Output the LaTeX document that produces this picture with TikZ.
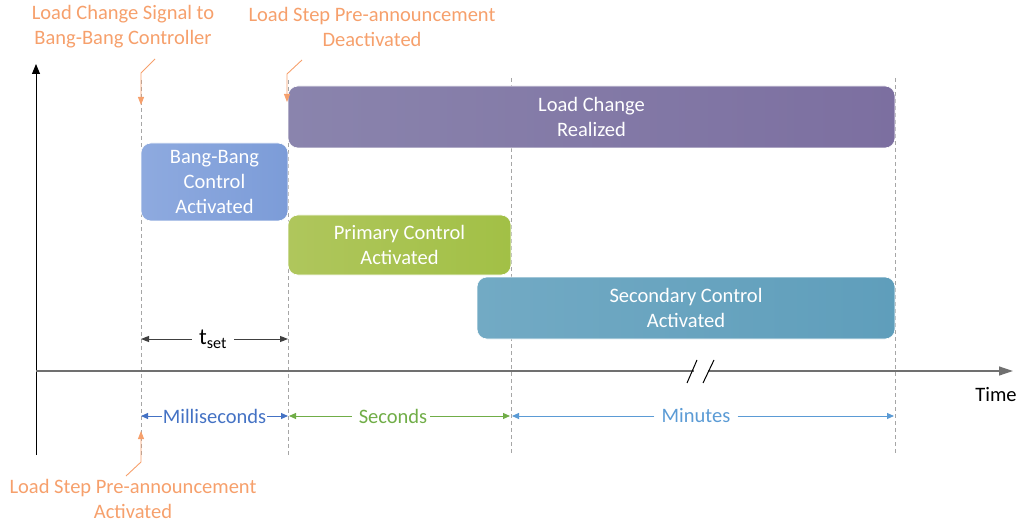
\documentclass[tikz,border=0pt]{standalone}
\usepackage{fontspec}
\setmainfont{Carlito}
\usetikzlibrary{arrows.meta}
\definecolor{ann}{HTML}{F6A06C}
\definecolor{axisgray}{HTML}{707070}
\definecolor{dashgray}{HTML}{A6A6A6}
\definecolor{msblue}{HTML}{4472C4}
\definecolor{secgreen}{HTML}{70AD47}
\definecolor{minblue}{HTML}{5B9BD5}
\definecolor{lcrL}{HTML}{8A84AD}
\definecolor{lcrR}{HTML}{7C6FA0}
\definecolor{bbL}{HTML}{8EAADF}
\definecolor{bbR}{HTML}{7C9CD8}
\definecolor{pcL}{HTML}{AFC65C}
\definecolor{pcR}{HTML}{A2C046}
\definecolor{scL}{HTML}{72AAC4}
\definecolor{scR}{HTML}{5F9EBB}
\tikzset{
  lbl/.style={font=\fontsize{20.5}{25}\selectfont, align=center, inner sep=1pt},
  annot/.style={lbl, text=ann},
  phase/.style={rounded corners=10pt, draw=white, line width=0.6pt, text=white, lbl, minimum height=#1},
  vdash/.style={dashgray, dashed, dash pattern=on 4pt off 3pt, line width=0.8pt},
  callout/.style={ann, line width=0.9pt, -{Triangle[length=8pt,width=6pt]}},
}
\begin{document}
\begin{tikzpicture}[x=1pt,y=-1pt]
\useasboundingbox (0,0) rectangle (1021,524);
% dashed verticals
\draw[vdash] (141,80) -- (141,455);
\draw[vdash] (288,80) -- (288,455);
\draw[vdash] (511,78) -- (511,455);
\draw[vdash] (895,78) -- (895,455);
% axes
\coordinate (o) at (36,371);
\coordinate (ytop) at (36,64);
\coordinate (ybot) at (36,455);
\coordinate (xend) at (1013,371);
\draw[line width=1pt, -{Triangle[length=10pt,width=8pt]}] (ybot) -- (ytop);
\draw[axisgray, line width=1.2pt, -{Triangle[length=14pt,width=9pt]}] (o) -- (xend);
\node[lbl, anchor=center] (time) at (996,395) {Time};
% break marks
\draw[white, line width=6pt] (694,371) -- (708,371);
\draw[line width=1pt] (687,383) -- (697,360) (703,383) -- (714,360);
% phase boxes
\node[phase=62pt, minimum width=607pt, left color=lcrL, right color=lcrR] (lcr) at (591.5,117) {Load Change\\Realized};
\node[phase=78pt, minimum width=147pt, left color=bbL, right color=bbR] (bb) at (214.5,182) {Bang-Bang\\Control\\Activated};
\node[phase=60pt, minimum width=223pt, left color=pcL, right color=pcR] (pc) at (399.5,245) {Primary Control\\Activated};
\node[phase=62pt, minimum width=418pt, left color=scL, right color=scR] (sc) at (686,308) {Secondary Control\\Activated};
% t_set
\node[lbl, font=\fontsize{23}{26}\selectfont] (tset) at (213,339) {t\textsubscript{set}};
\coordinate (ta) at (141,339);
\coordinate (tb) at (288,339);
\draw[line width=1pt, black!75, -{Triangle[length=8pt,width=6pt]}] (tset.west) ++(-6pt,0) -- (ta);
\draw[line width=1pt, black!75, -{Triangle[length=8pt,width=6pt]}] (tset.east) ++(6pt,0) -- (tb);
% time scale spans
\node[lbl, text=msblue] (ms) at (214.5,416) {Milliseconds};
\draw[msblue, line width=1pt, -{Triangle[length=7pt,width=6pt]}] (ms.west) -- (141,416);
\draw[msblue, line width=1pt, -{Triangle[length=7pt,width=6pt]}] (ms.east) -- (288,416);
\node[lbl, text=secgreen] (sec) at (393,416) {Seconds};
\draw[secgreen, line width=1pt, -{Triangle[length=7pt,width=6pt]}] (sec.west) ++(-6pt,0) -- (289,416);
\draw[secgreen, line width=1pt, -{Triangle[length=7pt,width=6pt]}] (sec.east) ++(2pt,0) -- (510,416);
\node[lbl, text=minblue] (min) at (696,416) {Minutes};
\draw[minblue, line width=1pt, -{Triangle[length=7pt,width=6pt]}] (min.west) ++(-6pt,0) -- (512,416);
\draw[minblue, line width=1pt, -{Triangle[length=7pt,width=6pt]}] (min.east) ++(6pt,0) -- (894,416);
% annotations
\node[annot] (a1) at (123,27) {Load Change Signal to\\Bang-Bang Controller};
\node[annot] (a2) at (372,27) {Load Step Pre-announcement\\Deactivated};
\node[annot] (a3) at (133,499) {Load Step Pre-announcement\\Activated};
\coordinate (c1s) at (155,59);
\coordinate (c1t) at (141,105);
\draw[callout] (c1s) -- (141,73) -- (c1t);
\coordinate (c2s) at (302,60);
\coordinate (c2t) at (287,102);
\draw[callout] (c2s) -- (287,74) -- (c2t);
\coordinate (c3s) at (126,476);
\coordinate (c3t) at (141,431);
\draw[callout] (c3s) -- (141,462) -- (c3t);
\end{tikzpicture}
\end{document}
